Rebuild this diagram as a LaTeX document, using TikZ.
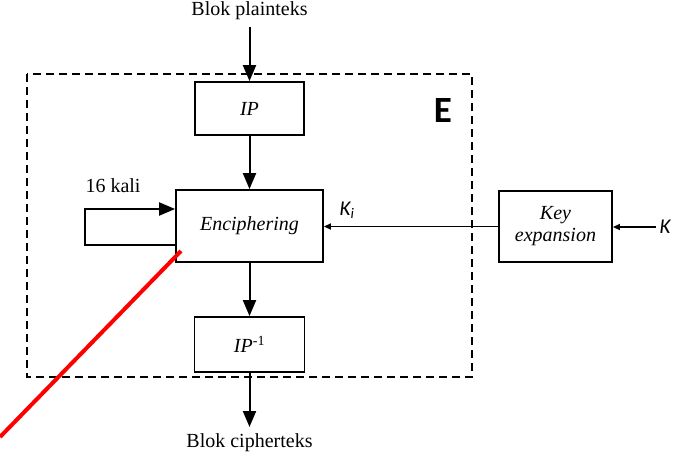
\documentclass[tikz,border=0pt]{standalone}
\usepackage{fontspec}
\setmainfont{Liberation Serif}
\newfontfamily\sfc{Carlito}
\usetikzlibrary{arrows.meta}
\begin{document}
\begin{tikzpicture}[x=1pt,y=-1pt,
  box/.style={draw, line width=1.8pt, rectangle, inner sep=0pt, font=\fontsize{20}{23}\selectfont\itshape, align=center},
  lbl/.style={font=\fontsize{20}{23}\selectfont},
  bigarrow/.style={line width=2pt, -{Triangle[length=16pt,width=13pt]}},
  smallarrow/.style={line width=1.6pt, -{Triangle[length=7pt,width=6pt]}},
  frame/.style={draw, line width=1.8pt, dash pattern=on 8pt off 5pt}]
\useasboundingbox (0,0) rectangle (680,458);
\path[fill=white] (0,0) rectangle (680,458);
% dashed frame
\draw[frame] (27,74) rectangle (472,377);
\node[font=\sfc\bfseries\fontsize{37}{40}\selectfont] (E) at (443,111) {E};
% boxes
\node[box, minimum width=109pt, minimum height=53pt] (IP) at (249.5,108.5) {IP};
\node[box, minimum width=147pt, minimum height=72pt] (Enc) at (249.5,226) {Enciphering};
\node[box, minimum width=110pt, minimum height=55pt] (IPinv) at (249.5,344.5) {\textit{IP}\textsuperscript{\upshape -1}};
\node[box, minimum width=113pt, minimum height=71pt, font=\fontsize{20}{22}\selectfont\itshape] (Key) at (555.5,226.5) {Key\\expansion};
% texts
\node[lbl] (pt) at (249.5,11) {Blok plainteks};
\node[lbl] (ct) at (249.5,443) {Blok cipherteks};
\node[lbl] (kali) at (113,186) {16 kali};
\node[font=\sfc\itshape\fontsize{21}{23}\selectfont] (Ki) at (347,210) {K\textsubscript{\itshape i}};
\node[font=\sfc\itshape\fontsize{21}{23}\selectfont] (K) at (665,227) {K};
% connectors
\coordinate (ptb) at (249.5,27);
\draw[bigarrow] (ptb) -- (IP.north);
\draw[bigarrow] (IP) -- (Enc);
\draw[bigarrow] (Enc) -- (IPinv);
\coordinate (ctop) at (249.5,427);
\draw[bigarrow] (IPinv) -- (ctop);
\coordinate (lp) at (85,227);
\draw[bigarrow] ([yshift=-19pt]Enc.west) -| (lp) |- ([yshift=17pt]Enc.west);
\draw[smallarrow] (Key.west) -- (Enc.east |- Key.west);
\draw[smallarrow] (K.west) -- (Key.east |- K.west);
% red annotation line
\draw[red, line width=4pt] (0,437) -- (181,251);
\end{tikzpicture}
\end{document}
